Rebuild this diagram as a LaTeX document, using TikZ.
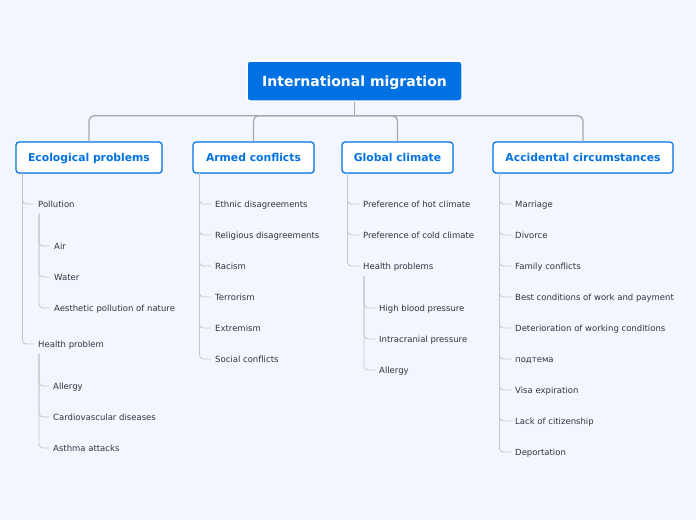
\documentclass[tikz,border=0pt]{standalone}
\usepackage{fontspec}
\setmainfont{DejaVu Sans}
\usetikzlibrary{shadows}
\definecolor{bgblue}{HTML}{F2F6FE}
\definecolor{mainblue}{HTML}{0071E3}
\definecolor{textgray}{HTML}{333333}
\definecolor{trunkgray}{HTML}{A8A8A8}
\definecolor{twiggray}{HTML}{C6C6C6}
\tikzset{
  rootbox/.style={fill=mainblue, draw=white, line width=1.5pt, rounded corners=3pt,
    text=white, font=\fontsize{14}{16}\bfseries, text height=11pt, text depth=0pt,
    minimum width=215pt, minimum height=40pt},
  topicbox/.style={fill=white, draw=mainblue, line width=1.2pt, rounded corners=3pt,
    text=mainblue, font=\fontsize{10.8}{12}\bfseries, text height=8pt, text depth=0pt,
    minimum height=31pt,
    drop shadow={shadow xshift=0.8pt, shadow yshift=-1.2pt, opacity=0.18}},
  leaf/.style={anchor=west, inner sep=0pt, text height=7.5pt, text depth=0pt,
    text=textgray, font=\fontsize{8.5}{10}\selectfont},
  trunk/.style={draw=trunkgray, line width=1.3pt, rounded corners=5pt},
  twig/.style={draw=twiggray, line width=0.8pt, rounded corners=4pt, shorten >=4pt}
}
\begin{document}
\begin{tikzpicture}[x=1pt, y=-1pt]
\fill[bgblue] (0,0) rectangle (696,520);
\useasboundingbox (0,0) rectangle (696,520);

% root and main topics
\node[rootbox] (root) at (354.5,81) {International migration};
\node[topicbox, minimum width=146pt] (eco) at (89,157.5) {Ecological problems};
\node[topicbox, minimum width=121pt] (armed) at (253.5,157.5) {Armed conflicts};
\node[topicbox, minimum width=111pt] (climate) at (397.5,157.5) {Global climate};
\node[topicbox, minimum width=180pt] (accid) at (583,157.5) {Accidental circumstances};

\coordinate (hub) at ([yshift=-14pt]root.south);
\draw[trunk] (root.south) -- (hub);
\draw[trunk] (hub) -| (eco.north);
\draw[trunk] (hub) -| (armed.north);
\draw[trunk] (hub) -| (climate.north);
\draw[trunk] (hub) -| (accid.north);

% Ecological problems
\node[leaf] (pol) at (38,204) {Pollution};
\node[leaf] (air) at (54,246) {Air};
\node[leaf] (water) at (54,277) {Water};
\node[leaf] (aesth) at (54,308) {Aesthetic pollution of nature};
\node[leaf] (hprob) at (38,344) {Health problem};
\node[leaf] (allergyA) at (53,386) {Allergy};
\node[leaf] (cardio) at (53,417) {Cardiovascular diseases};
\node[leaf] (asthma) at (53,448) {Asthma attacks};
\draw[twig] ([xshift=7pt]eco.south west) |- (pol.west);
\draw[twig] ([xshift=7pt]eco.south west) |- (hprob.west);
\draw[twig] ([xshift=1pt,yshift=-6pt]pol.south west) |- (air.west);
\draw[twig] ([xshift=1pt,yshift=-6pt]pol.south west) |- (water.west);
\draw[twig] ([xshift=1pt,yshift=-6pt]pol.south west) |- (aesth.west);
\draw[twig] ([xshift=1pt,yshift=-6pt]hprob.south west) |- (allergyA.west);
\draw[twig] ([xshift=1pt,yshift=-6pt]hprob.south west) |- (cardio.west);
\draw[twig] ([xshift=1pt,yshift=-6pt]hprob.south west) |- (asthma.west);

% Armed conflicts
\node[leaf] (ethnic) at (215,204) {Ethnic disagreements};
\node[leaf] (relig) at (215,235) {Religious disagreements};
\node[leaf] (racism) at (215,266) {Racism};
\node[leaf] (terror) at (215,297) {Terrorism};
\node[leaf] (extrem) at (215,328) {Extremism};
\node[leaf] (social) at (215,359) {Social conflicts};
\draw[twig] ([xshift=7pt]armed.south west) |- (ethnic.west);
\draw[twig] ([xshift=7pt]armed.south west) |- (relig.west);
\draw[twig] ([xshift=7pt]armed.south west) |- (racism.west);
\draw[twig] ([xshift=7pt]armed.south west) |- (terror.west);
\draw[twig] ([xshift=7pt]armed.south west) |- (extrem.west);
\draw[twig] ([xshift=7pt]armed.south west) |- (social.west);

% Global climate
\node[leaf] (hot) at (363,204) {Preference of hot climate};
\node[leaf] (cold) at (363,235) {Preference of cold climate};
\node[leaf] (hprobs) at (363,266) {Health problems};
\node[leaf] (blood) at (379,308) {High blood pressure};
\node[leaf] (cranial) at (379,339) {Intracranial pressure};
\node[leaf] (allergyB) at (379,370) {Allergy};
\draw[twig] ([xshift=6pt]climate.south west) |- (hot.west);
\draw[twig] ([xshift=6pt]climate.south west) |- (cold.west);
\draw[twig] ([xshift=6pt]climate.south west) |- (hprobs.west);
\draw[twig] ([xshift=1pt,yshift=-6pt]hprobs.south west) |- (blood.west);
\draw[twig] ([xshift=1pt,yshift=-6pt]hprobs.south west) |- (cranial.west);
\draw[twig] ([xshift=1pt,yshift=-6pt]hprobs.south west) |- (allergyB.west);

% Accidental circumstances
\node[leaf] (marriage) at (515,204) {Marriage};
\node[leaf] (divorce) at (515,235) {Divorce};
\node[leaf] (family) at (515,266) {Family conflicts};
\node[leaf] (best) at (515,297) {Best conditions of work and payment};
\node[leaf] (deterio) at (515,328) {Deterioration of working conditions};
\node[leaf] (subtopic) at (515,359) {подтема};
\node[leaf] (visa) at (515,390) {Visa expiration};
\node[leaf] (citizen) at (515,421) {Lack of citizenship};
\node[leaf] (deport) at (515,452) {Deportation};
\draw[twig] ([xshift=7pt]accid.south west) |- (marriage.west);
\draw[twig] ([xshift=7pt]accid.south west) |- (divorce.west);
\draw[twig] ([xshift=7pt]accid.south west) |- (family.west);
\draw[twig] ([xshift=7pt]accid.south west) |- (best.west);
\draw[twig] ([xshift=7pt]accid.south west) |- (deterio.west);
\draw[twig] ([xshift=7pt]accid.south west) |- (subtopic.west);
\draw[twig] ([xshift=7pt]accid.south west) |- (visa.west);
\draw[twig] ([xshift=7pt]accid.south west) |- (citizen.west);
\draw[twig] ([xshift=7pt]accid.south west) |- (deport.west);
\end{tikzpicture}
\end{document}
